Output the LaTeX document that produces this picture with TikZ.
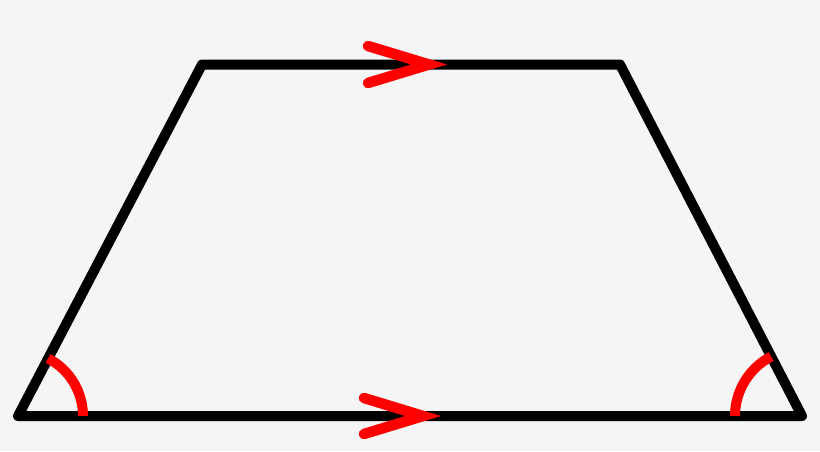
\documentclass[tikz,border=0pt]{standalone}
\usepackage{amsmath}
\usepackage{tikz}

\definecolor{bggray}{RGB}{245,245,245}

\begin{document}
\begin{tikzpicture}[x=1pt, y=-1pt, outer sep = 0pt]

\tikzstyle{side}=[draw=black, line width=10pt, line join=round, line cap=round]
\tikzstyle{parallel}=[draw=red, line width=10.5pt, line join=miter, line cap=round]
\tikzstyle{angle}=[draw=red, line width=10pt]

\fill[bggray] (0,0) rectangle (820,451);
\useasboundingbox (0,0) rectangle (820,451);

\coordinate (bl) at (18,416); \coordinate (br) at (802,416);
\coordinate (tl) at (202,64.5); \coordinate (tr) at (620,64.5);

\draw[side] (bl) -- (tl) -- (tr) -- (br) -- cycle;

\coordinate (toptip) at (429,64.5); \coordinate (bottip) at (423,416);
\draw[parallel] (368,46) -- (toptip) -- (368,83);
\draw[parallel] (364,398) -- (bottip) -- (364,434);

\draw[angle] (bl) ++(65,0) arc[start angle=0, end angle=-62.4, radius=65];
\draw[angle] (br) ++(-67,0) arc[start angle=180, end angle=242.6, radius=67];

\end{tikzpicture}
\end{document}
